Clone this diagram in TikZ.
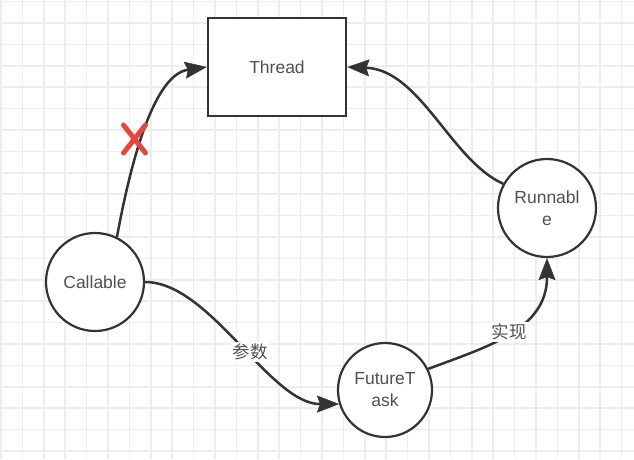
\documentclass[tikz,border=0pt]{standalone}
\usepackage{fontspec}
\setmainfont{Liberation Sans}
\newfontfamily\cjk{Noto Sans CJK SC}
\usetikzlibrary{arrows.meta}
\definecolor{gridc}{HTML}{EDEDED}
\definecolor{linec}{HTML}{333333}
\definecolor{textc}{HTML}{505050}
\definecolor{crossc}{HTML}{E8453C}
\begin{document}
\begin{tikzpicture}[x=1pt,y=-1pt,
  gridline/.style={draw=gridc, line width=1.6pt},
  boxnode/.style={draw=linec, line width=2.6pt, fill=white, minimum width=138pt, minimum height=98pt, inner sep=0pt, font=\fontsize{17.5}{22}\selectfont, text=textc},
  circnode/.style={circle, draw=linec, line width=2.2pt, fill=white, inner sep=0pt, align=center, font=\fontsize{17.5}{22}\selectfont, text=textc},
  conn/.style={draw=linec, line width=2.5pt, -{Stealth[length=22pt,width=17pt,inset=3pt,line width=0.5pt]}},
  lbl/.style={fill=white, inner sep=2pt, text=textc, font=\cjk\fontsize{17.5}{20}\selectfont},
  crossline/.style={draw=crossc, line width=5pt, line cap=round}
]
\useasboundingbox (0,0) rectangle (634,459);
\fill[white] (0,0) rectangle (634,459);
\foreach \i in {0,...,29} \draw[gridline] ({1+21.4*\i},0) -- ({1+21.4*\i},459);
\foreach \j in {0,...,21} \draw[gridline] (0,{1.5+21.4*\j}) -- (634,{1.5+21.4*\j});

\node[boxnode] (thread) at (277,67) {Thread};
\node[circnode, minimum size=98pt] (callable) at (95,282) {Callable};
\node[circnode, minimum size=98pt] (runnable) at (547,208) {Runnabl\\e};
\node[circnode, minimum size=94pt] (future) at (385,390) {FutureT\\ask};

\draw[conn] (callable.64) .. controls +(12,-65) and +(-55,8) .. (thread.west);
\draw[conn] (runnable.151) .. controls +(-52,-23) and +(73,3) .. (thread.east);
\draw[conn] (callable.east) .. controls +(65,0) and +(-69,0) .. (future.197)
  node[lbl, pos=0.55] (lcan) {参数};
\draw[conn] (future.26) .. controls +(58,-22) and +(0,72) .. (runnable.south)
  node[lbl, pos=0.5] (lshi) {实现};

\coordinate (cross) at (134.5,139);
\draw[crossline] ([shift={(-11,-14)}]cross) -- ([shift={(11,14)}]cross);
\draw[crossline] ([shift={(11,-14)}]cross) -- ([shift={(-11,14)}]cross);
\end{tikzpicture}
\end{document}
